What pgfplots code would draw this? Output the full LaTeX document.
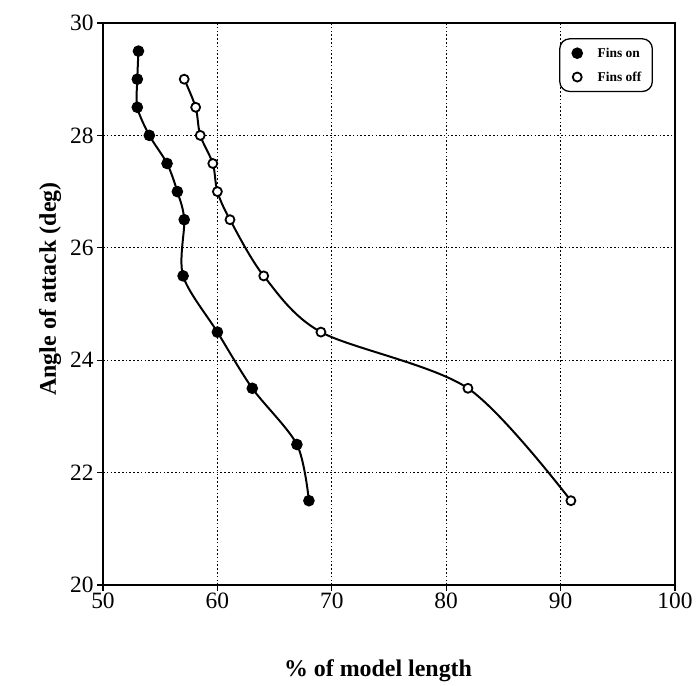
\documentclass[border=0pt]{standalone}
\usepackage{fontspec}
\setmainfont{Liberation Serif}
\usepackage{pgfplots}
\pgfplotsset{compat=1.18}
\begin{document}
\begin{tikzpicture}
\begin{axis}[
  scale only axis,
  width=572bp, height=562bp,
  xmin=50, xmax=100, ymin=20, ymax=30,
  xtick={50,60,70,80,90,100},
  ytick={20,22,24,26,28,30},
  xtick pos=left, ytick pos=left,
  tick align=outside,
  major tick length=6bp,
  tick style={line width=1.2pt, black},
  axis line style={line width=1.8pt},
  grid=major,
  major grid style={dash pattern=on 1.6pt off 2.2pt, line width=1.3pt, black},
  /pgf/number format/assume math mode=true,
  ticklabel style={font=\fontsize{23.5}{25}\selectfont},
  xticklabel style={yshift=2bp},
  xlabel={\bfseries\% of model length},
  ylabel={\bfseries Angle of attack (deg)},
  label style={font=\fontsize{24}{26}\selectfont},
  xlabel style={yshift=-45bp, xshift=-11bp},
  ylabel style={yshift=2bp, xshift=15bp},
  legend style={at={(rel axis cs:0.9615,0.973)}, anchor=north east,
    rounded corners=10pt, draw=black, line width=1.3pt, fill=white,
    font=\fontsize{13.5}{14}\selectfont\bfseries, row sep=9pt,
    inner xsep=9pt, inner ysep=7pt},
  legend cell align=left,
  legend image code/.code={\path[draw=none] (0cm,0cm) (0.95cm,0cm);\draw[#1, mark=*] plot coordinates {(0.3cm,0cm)};},
]
\addplot[black, line width=2pt, smooth, tension=0.5, mark=*, mark size=5.3bp,
  mark options={fill=black, solid, line width=1pt}] coordinates {
  (53.1,29.5) (53.0,29.0) (53.0,28.5) (54.05,28.0) (55.6,27.5) (56.5,27.0)
  (57.1,26.5) (57.0,25.5) (60.0,24.5) (63.05,23.5) (66.95,22.5) (68.0,21.5)
};
\addlegendentry{Fins on}
\addplot[black, line width=2pt, smooth, tension=0.5, mark=*, mark size=4.5bp,
  mark options={fill=white, line width=1.8pt, solid}] coordinates {
  (57.1,29.0) (58.1,28.5) (58.5,28.0) (59.6,27.5) (60.0,27.0) (61.1,26.5)
  (64.05,25.5) (69.05,24.5) (81.9,23.5) (90.9,21.5)
};
\addlegendentry{Fins off}
\end{axis}
\path (current axis.south west) ++(-103bp,-100bp) rectangle ([xshift=25bp,yshift=23bp]current axis.north east);
\end{tikzpicture}
\end{document}
